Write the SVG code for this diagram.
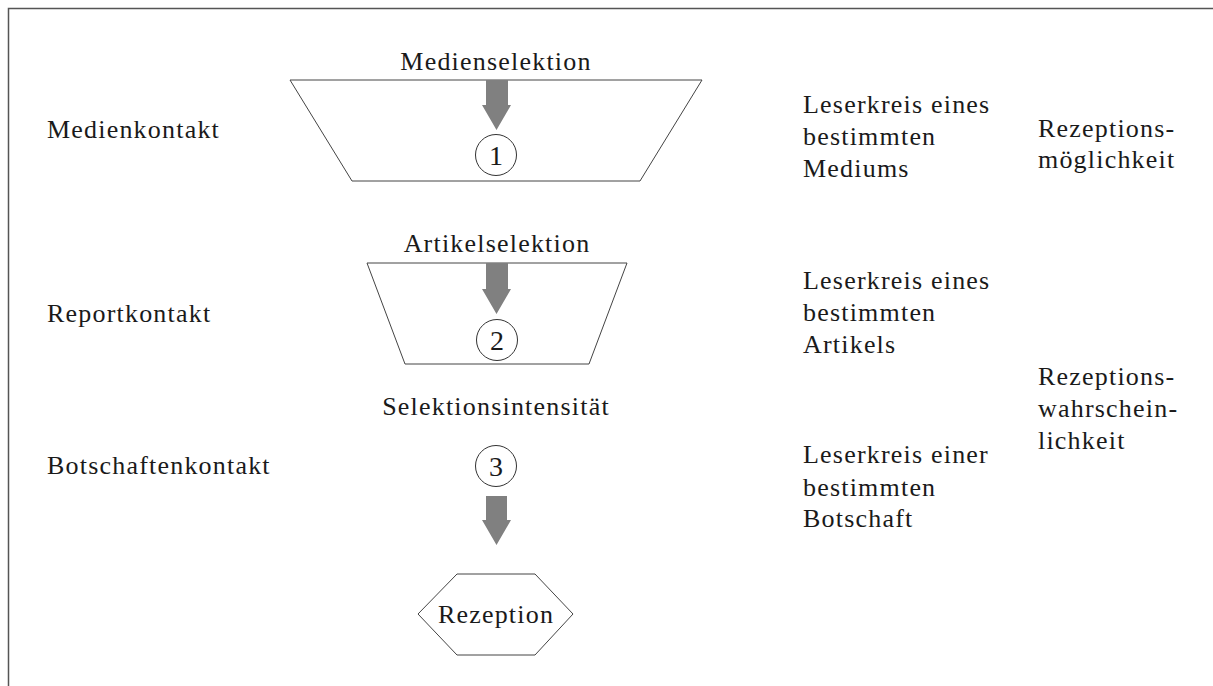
<svg xmlns="http://www.w3.org/2000/svg" width="1213" height="686" viewBox="0 0 1213 686">
<style>
  text { font-family: "Liberation Serif", "Times New Roman", serif; font-size: 26px; fill: #1a1a1a; letter-spacing: 1.2px; }
  .c { text-anchor: middle; }
  .num { font-size: 28px; letter-spacing: 0; text-anchor: middle; }
  .shape { fill: none; stroke: #444; stroke-width: 1; }
  .arrow { fill: #808080; stroke: none; }
  .circ { fill: #fff; stroke: #333; stroke-width: 1; }
</style>
<rect width="1213" height="686" fill="#fff"/>
<path d="M8.5,686 V8.5 H1213" fill="none" stroke="#555" stroke-width="1.5"/>

<g id="stage1">
  <polygon class="shape" points="290,80 702,80 640,181 352,181"/>
  <text class="c" x="496" y="70">Medienselektion</text>
  <circle class="circ" cx="496" cy="155" r="20.5"/>
  <text class="num" x="496" y="164.5">1</text>
</g>
<g id="stage2">
  <polygon class="shape" points="367,263 627,263 589,364 405,364"/>
  <text class="c" x="497" y="252">Artikelselektion</text>
  <circle class="circ" cx="497" cy="340" r="20.5"/>
  <text class="num" x="497" y="349.5">2</text>
</g>
<g id="stage3">
  <text class="c" x="496" y="415">Selektionsintensität</text>
  <circle class="circ" cx="496" cy="466" r="20.5"/>
  <text class="num" x="496" y="475.5">3</text>
</g>
<g id="rezeption">
  <polygon class="shape" points="418,614 457,574 535,574 573,614 535,655 457,655"/>
  <text class="c" x="496" y="623">Rezeption</text>
</g>

<g id="connectors">
  <polygon class="arrow" points="486,80 508,80 508,105 511,105 496.5,130 482,105 486,105"/>
  <polygon class="arrow" points="486,263 508,263 508,289 511,289 496.5,314 482,289 486,289"/>
  <polygon class="arrow" points="486,496 507,496 507,520 511,520 496.5,545 482,520 486,520"/>
</g>

<g id="left-labels">
  <text x="47" y="138">Medienkontakt</text>
  <text x="47" y="322">Reportkontakt</text>
  <text x="47" y="474">Botschaftenkontakt</text>
</g>

<g id="right-labels">
  <text x="803" y="113">Leserkreis eines</text>
  <text x="803" y="145">bestimmten</text>
  <text x="803" y="177">Mediums</text>
  <text x="1038" y="137">Rezeptions-</text>
  <text x="1038" y="168">möglichkeit</text>
  <text x="803" y="289">Leserkreis eines</text>
  <text x="803" y="321">bestimmten</text>
  <text x="803" y="353">Artikels</text>
  <text x="1038" y="385">Rezeptions-</text>
  <text x="1038" y="417">wahrschein-</text>
  <text x="1038" y="449">lichkeit</text>
  <text x="803" y="463">Leserkreis einer</text>
  <text x="803" y="496">bestimmten</text>
  <text x="803" y="527">Botschaft</text>
</g>
</svg>
